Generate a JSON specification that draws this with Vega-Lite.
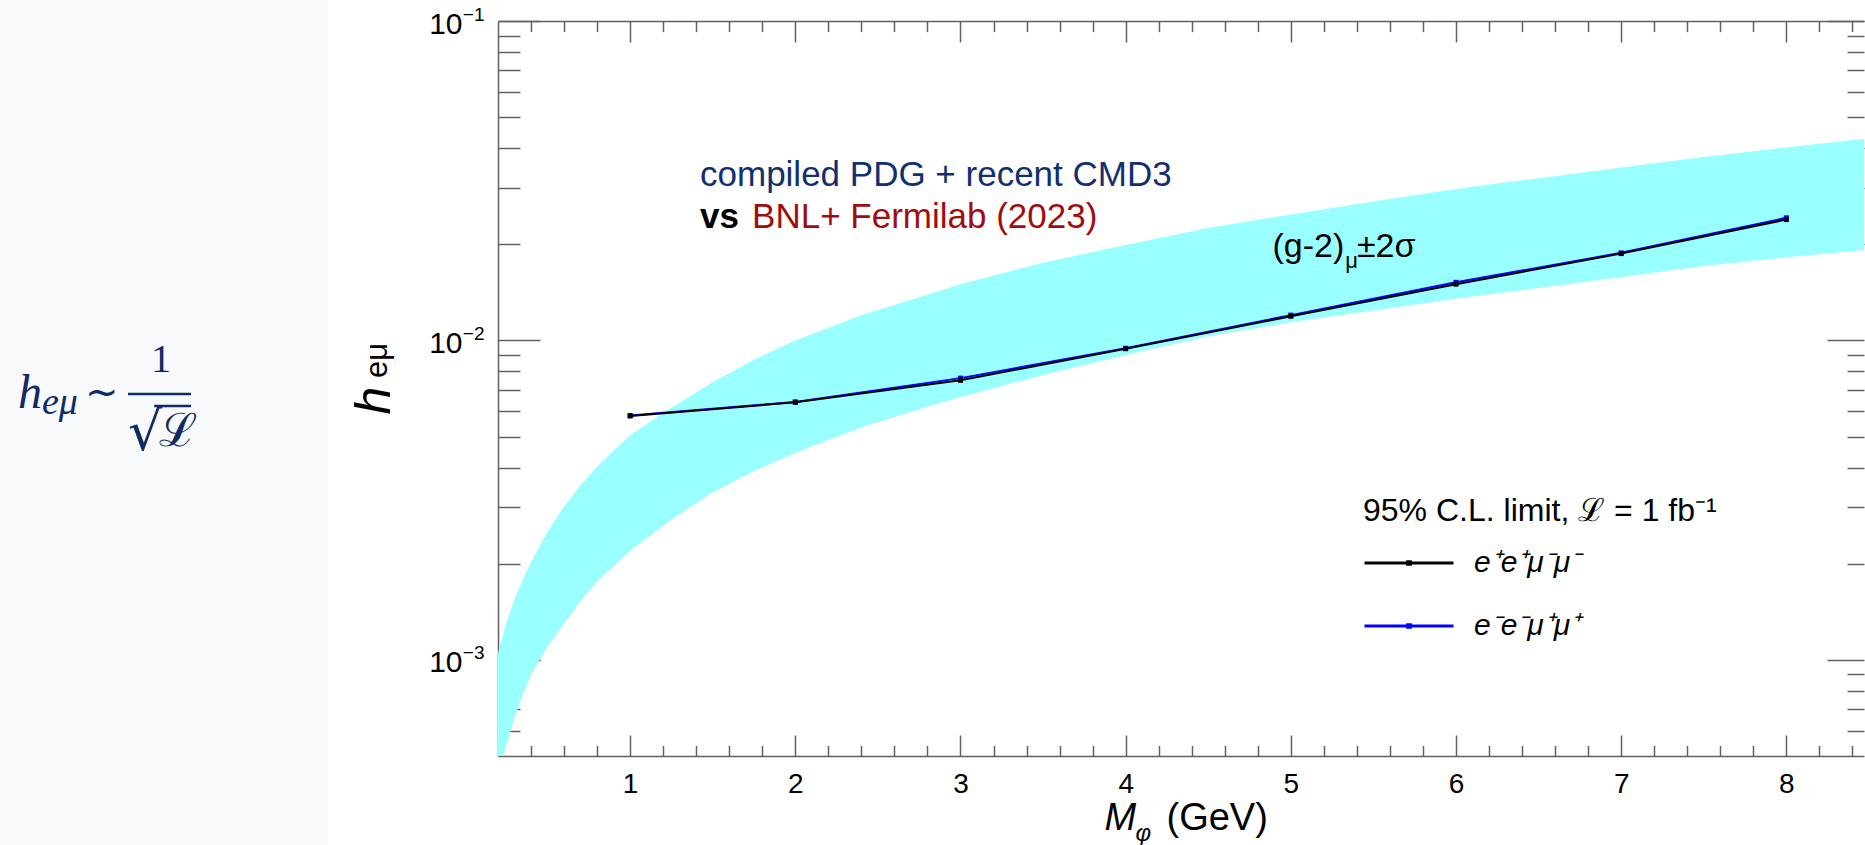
{
  "$schema": "https://vega.github.io/schema/vega-lite/v6.json",
  "background": "white",
  "padding": 0,
  "bounds": "flush",
  "spacing": 170,
  "config": {
    "font": "Liberation Sans",
    "view": {"stroke": null},
    "axis": {"grid": false, "tickColor": "#606060", "domainColor": "#606060", "tickWidth": 1.5, "domainWidth": 1.5, "labelColor": "#000000", "titleColor": "#000000", "labelFont": "Liberation Sans", "titleFont": "Liberation Sans", "titleFontWeight": "normal", "labelFlush": false, "labelOverlap": false}
  },
  "datasets": {
    "band": [
      {"m": 0.2, "lo": 0.00044, "hi": 0.00105},
      {"m": 0.25, "lo": 0.00054, "hi": 0.0013},
      {"m": 0.3, "lo": 0.00066, "hi": 0.00155},
      {"m": 0.35, "lo": 0.00078, "hi": 0.00178},
      {"m": 0.4, "lo": 0.0009, "hi": 0.00202},
      {"m": 0.5, "lo": 0.0011, "hi": 0.00252},
      {"m": 0.6, "lo": 0.0013, "hi": 0.00302},
      {"m": 0.7, "lo": 0.00153, "hi": 0.00352},
      {"m": 0.8, "lo": 0.00176, "hi": 0.00402},
      {"m": 1.0, "lo": 0.0022, "hi": 0.00505},
      {"m": 1.25, "lo": 0.00275, "hi": 0.00615},
      {"m": 1.5, "lo": 0.00335, "hi": 0.0074},
      {"m": 1.75, "lo": 0.0039, "hi": 0.0087},
      {"m": 2.0, "lo": 0.00445, "hi": 0.01},
      {"m": 2.4, "lo": 0.00535, "hi": 0.012},
      {"m": 2.8, "lo": 0.0062, "hi": 0.0139},
      {"m": 3.0, "lo": 0.00665, "hi": 0.015},
      {"m": 3.5, "lo": 0.0078, "hi": 0.0175},
      {"m": 4.0, "lo": 0.009, "hi": 0.0199},
      {"m": 4.5, "lo": 0.0103, "hi": 0.0225},
      {"m": 5.0, "lo": 0.0114, "hi": 0.0248},
      {"m": 5.5, "lo": 0.0124, "hi": 0.0272},
      {"m": 6.0, "lo": 0.0135, "hi": 0.0298},
      {"m": 6.5, "lo": 0.0146, "hi": 0.0322},
      {"m": 7.0, "lo": 0.0158, "hi": 0.0348},
      {"m": 7.5, "lo": 0.0171, "hi": 0.0375},
      {"m": 8.0, "lo": 0.0182, "hi": 0.0402},
      {"m": 8.47, "lo": 0.0192, "hi": 0.0428}
    ],
    "black": [
      {"m": 1, "h": 0.0058, "series": "e⁺e⁺μ⁻μ⁻"},
      {"m": 2, "h": 0.0064, "series": "e⁺e⁺μ⁻μ⁻"},
      {"m": 3, "h": 0.0075, "series": "e⁺e⁺μ⁻μ⁻"},
      {"m": 4, "h": 0.00942, "series": "e⁺e⁺μ⁻μ⁻"},
      {"m": 5, "h": 0.0119, "series": "e⁺e⁺μ⁻μ⁻"},
      {"m": 6, "h": 0.015, "series": "e⁺e⁺μ⁻μ⁻"},
      {"m": 7, "h": 0.0187, "series": "e⁺e⁺μ⁻μ⁻"},
      {"m": 8, "h": 0.0239, "series": "e⁺e⁺μ⁻μ⁻"}
    ],
    "blue": [
      {"m": 1, "h": 0.00582, "series": "e⁻e⁻μ⁺μ⁺"},
      {"m": 2, "h": 0.00642, "series": "e⁻e⁻μ⁺μ⁺"},
      {"m": 3, "h": 0.00762, "series": "e⁻e⁻μ⁺μ⁺"},
      {"m": 4, "h": 0.00945, "series": "e⁻e⁻μ⁺μ⁺"},
      {"m": 5, "h": 0.012, "series": "e⁻e⁻μ⁺μ⁺"},
      {"m": 6, "h": 0.0152, "series": "e⁻e⁻μ⁺μ⁺"},
      {"m": 7, "h": 0.0188, "series": "e⁻e⁻μ⁺μ⁺"},
      {"m": 8, "h": 0.0242, "series": "e⁻e⁻μ⁺μ⁺"}
    ]
  },
  "hconcat": [
    {
      "width": 328,
      "height": 845,
      "view": {"fill": "#f8f9fa", "stroke": null},
      "encoding": {
        "x": {"field": "x", "type": "quantitative", "scale": {"domain": [0, 1]}, "axis": null},
        "y": {"field": "y", "type": "quantitative", "scale": {"domain": [0, 1], "reverse": true}, "axis": null}
      },
      "layer": [
        {"data": {"values": [{"x": 0.0549, "y": 0.4828, "t": "h"}]},
         "mark": {"type": "text", "font": "Liberation Serif", "fontStyle": "italic", "fontSize": 48, "color": "#102a66", "align": "left", "baseline": "alphabetic"},
         "encoding": {"text": {"field": "t"}}},
        {"data": {"values": [{"x": 0.128, "y": 0.4905, "t": "eμ"}]},
         "mark": {"type": "text", "font": "Liberation Serif", "fontStyle": "italic", "fontSize": 38, "color": "#102a66", "align": "left", "baseline": "alphabetic"},
         "encoding": {"text": {"field": "t"}}},
        {"data": {"values": [{"x": 0.2591, "y": 0.4805, "t": "~"}]},
         "mark": {"type": "text", "font": "DejaVu Sans", "fontSize": 40, "color": "#102a66", "align": "left", "baseline": "alphabetic"},
         "encoding": {"text": {"field": "t"}}},
        {"data": {"values": [{"x": 0.4909, "y": 0.4402, "t": "1"}]},
         "mark": {"type": "text", "font": "Liberation Serif", "fontSize": 40, "color": "#102a66", "align": "center", "baseline": "alphabetic"},
         "encoding": {"text": {"field": "t"}}},
        {"data": {"values": [{"x": 0.3902, "y": 0.5325, "t": "√"}]},
         "mark": {"type": "text", "font": "DejaVu Serif", "fontSize": 54, "color": "#102a66", "align": "left", "baseline": "alphabetic"},
         "encoding": {"text": {"field": "t"}}},
        {"data": {"values": [{"x": 0.485, "y": 0.5278, "t": "ℒ"}]},
         "mark": {"type": "text", "font": "DejaVu Serif", "fontSize": 46, "color": "#102a66", "align": "left", "baseline": "alphabetic"},
         "encoding": {"text": {"field": "t"}}},
        {"data": {"values": [{"x": 0.3902, "x2": 0.5823, "y": 0.4663}, {"x": 0.47, "x2": 0.5823, "y": 0.4805}]},
         "mark": {"type": "rule", "color": "#102a66", "strokeWidth": 2.5},
         "encoding": {"x2": {"field": "x2"}}}
      ]
    },
    {
      "width": 1366,
      "height": 756,
      "layer": [
        {
          "data": {"name": "band"},
          "mark": {"type": "area", "color": "#99ffff", "opacity": 1, "clip": true},
          "encoding": {
            "x": {"field": "m", "type": "quantitative",
                  "scale": {"domain": [0.2, 8.47], "nice": false, "zero": false},
                  "axis": {"orient": "bottom", "values": [1, 2, 3, 4, 5, 6, 7, 8], "format": "d", "tickSize": -21, "domain": true, "labels": true, "labelFontSize": 28, "labelPadding": 35, "labelBaseline": "top",
                           "title": "M", "titleFontStyle": "italic", "titleFontSize": 38, "titleX": 606, "titleY": 73, "titleAlign": "left", "titleBaseline": "alphabetic"}},
            "y": {"field": "hi", "type": "quantitative",
                  "scale": {"type": "log", "domain": [0.0005, 0.1], "range": [756, 21], "nice": false},
                  "axis": {"orient": "left", "values": [0.001, 0.01, 0.1], "tickSize": -42, "domain": true, "labels": true, "labelExpr": "'10'", "labelFontSize": 30, "labelPadding": 78, "labelOffset": 3, "labelAlign": "right", "labelBaseline": "middle",
                           "title": "h", "titleFontStyle": "italic", "titleFontSize": 50, "titleX": -109, "titleY": 400, "titleAngle": -90, "titleAlign": "center", "titleBaseline": "alphabetic"}},
            "y2": {"field": "lo"}
          }
        },
        {
          "data": {"name": "blue"},
          "mark": {"type": "line", "strokeWidth": 2},
          "encoding": {
            "x": {"field": "m", "type": "quantitative",
                  "axis": {"orient": "bottom", "values": [0.4, 0.6, 0.8, 1.2, 1.4, 1.6, 1.8, 2.2, 2.4, 2.6, 2.8, 3.2, 3.4, 3.6, 3.8, 4.2, 4.4, 4.6, 4.8, 5.2, 5.4, 5.6, 5.8, 6.2, 6.4, 6.6, 6.8, 7.2, 7.4, 7.6, 7.8, 8.2, 8.4], "tickSize": -10.6, "domain": false, "labels": false,
                           "title": "φ", "titleFontStyle": "italic", "titleFontSize": 24, "titleX": 637, "titleY": 84, "titleAlign": "left", "titleBaseline": "alphabetic"}},
            "y": {"field": "h", "type": "quantitative",
                  "axis": {"orient": "left", "values": [0.0006, 0.0007, 0.0008, 0.0009, 0.002, 0.003, 0.004, 0.005, 0.006, 0.007, 0.008, 0.009, 0.02, 0.03, 0.04, 0.05, 0.06, 0.07, 0.08, 0.09], "tickSize": -22, "domain": false, "labels": false,
                           "title": "eμ", "titleFontSize": 31, "titleX": -112, "titleY": 360, "titleAngle": -90, "titleAlign": "center", "titleBaseline": "alphabetic"}},
            "color": {"field": "series", "type": "nominal",
                      "scale": {"domain": ["e⁺e⁺μ⁻μ⁻", "e⁻e⁻μ⁺μ⁺"], "range": ["#000000", "#0000ff"]},
                      "legend": {"orient": "none", "legendX": 1363, "legendY": 496, "padding": 0,
                                 "title": "95% C.L. limit, ℒ = 1 fb⁻¹", "titleFont": "Liberation Sans", "titleFontSize": 32, "titleFontWeight": "normal", "titleColor": "#000000", "titlePadding": 20, "titleLimit": 1000,
                                 "labelFont": "Liberation Sans", "labelFontStyle": "italic", "labelFontSize": 30, "labelColor": "#000000", "labelOffset": 19, "labelLimit": 500,
                                 "symbolType": "M-1,0H1M-0.03,-0.03H0.03V0.03H-0.03Z", "symbolSize": 7921, "symbolStrokeWidth": 3, "clipHeight": 30, "rowPadding": 33}}
          }
        },
        {
          "data": {"name": "black"},
          "mark": {"type": "line", "strokeWidth": 2},
          "encoding": {
            "x": {"field": "m", "type": "quantitative",
                  "axis": {"orient": "top", "offset": -21, "values": [1, 2, 3, 4, 5, 6, 7, 8], "tickSize": -21, "domain": true, "labels": false,
                           "title": "(GeV)", "titleFontSize": 38, "titleX": 668, "titleY": 808, "titleAlign": "left", "titleBaseline": "alphabetic"}},
            "y": {"field": "h", "type": "quantitative",
                  "axis": {"orient": "left", "values": [0.001, 0.01, 0.1], "ticks": false, "domain": false, "labels": true,
                           "labelExpr": "datum.value < 0.005 ? '−3' : (datum.value < 0.05 ? '−2' : '−1')", "labelFontSize": 19, "labelPadding": 14, "labelOffset": -7, "labelAlign": "right", "labelBaseline": "middle", "title": null}},
            "color": {"field": "series", "type": "nominal"}
          }
        },
        {
          "data": {"name": "blue"},
          "mark": {"type": "point", "shape": "square", "filled": true, "size": 25, "opacity": 1, "color": "#0000ff"},
          "encoding": {
            "x": {"field": "m", "type": "quantitative",
                  "axis": {"orient": "top", "offset": -21, "values": [0.4, 0.6, 0.8, 1.2, 1.4, 1.6, 1.8, 2.2, 2.4, 2.6, 2.8, 3.2, 3.4, 3.6, 3.8, 4.2, 4.4, 4.6, 4.8, 5.2, 5.4, 5.6, 5.8, 6.2, 6.4, 6.6, 6.8, 7.2, 7.4, 7.6, 7.8, 8.2, 8.4], "tickSize": -10.6, "domain": false, "labels": false, "title": null}},
            "y": {"field": "h", "type": "quantitative",
                  "axis": {"orient": "right", "values": [0.001, 0.01, 0.1], "tickSize": -37, "domain": false, "labels": false, "title": null}}
          }
        },
        {
          "data": {"name": "black"},
          "mark": {"type": "point", "shape": "square", "filled": true, "size": 25, "opacity": 1, "color": "#000000"},
          "encoding": {
            "x": {"field": "m", "type": "quantitative", "axis": null},
            "y": {"field": "h", "type": "quantitative",
                  "axis": {"orient": "right", "values": [0.0006, 0.0007, 0.0008, 0.0009, 0.002, 0.003, 0.004, 0.005, 0.006, 0.007, 0.008, 0.009, 0.02, 0.03, 0.04, 0.05, 0.06, 0.07, 0.08, 0.09], "tickSize": -17, "domain": false, "labels": false, "title": null}}
          }
        },
        {
          "data": {"values": [{"m": 1.423, "h": 0.0305, "t": "compiled PDG + recent CMD3"}]},
          "mark": {"type": "text", "fontSize": 35, "color": "#12306e", "align": "left", "baseline": "alphabetic"},
          "encoding": {"x": {"field": "m", "type": "quantitative", "axis": null}, "y": {"field": "h", "type": "quantitative", "axis": null}, "text": {"field": "t"}}
        },
        {
          "data": {"values": [{"m": 1.423, "h": 0.02254, "t": "vs"}]},
          "mark": {"type": "text", "fontSize": 35, "fontWeight": "bold", "color": "#000000", "align": "left", "baseline": "alphabetic"},
          "encoding": {"x": {"field": "m", "type": "quantitative", "axis": null}, "y": {"field": "h", "type": "quantitative", "axis": null}, "text": {"field": "t"}}
        },
        {
          "data": {"values": [{"m": 1.738, "h": 0.02254, "t": "BNL+ Fermilab (2023)"}]},
          "mark": {"type": "text", "fontSize": 35, "color": "#a10d0d", "align": "left", "baseline": "alphabetic"},
          "encoding": {"x": {"field": "m", "type": "quantitative", "axis": null}, "y": {"field": "h", "type": "quantitative", "axis": null}, "text": {"field": "t"}}
        },
        {
          "data": {"values": [{"m": 4.889, "h": 0.01829, "t": "(g-2)"}, {"m": 5.40, "h": 0.01829, "t": "±2σ"}]},
          "mark": {"type": "text", "fontSize": 34, "color": "#000000", "align": "left", "baseline": "alphabetic"},
          "encoding": {"x": {"field": "m", "type": "quantitative", "axis": null}, "y": {"field": "h", "type": "quantitative", "axis": null}, "text": {"field": "t"}}
        },
        {
          "data": {"values": [{"m": 5.33, "h": 0.0169, "t": "μ"}]},
          "mark": {"type": "text", "fontSize": 22, "color": "#000000", "align": "left", "baseline": "alphabetic"},
          "encoding": {"x": {"field": "m", "type": "quantitative", "axis": null}, "y": {"field": "h", "type": "quantitative", "axis": null}, "text": {"field": "t"}}
        }
      ],
      "resolve": {"axis": {"x": "independent", "y": "independent"}}
    }
  ]
}
